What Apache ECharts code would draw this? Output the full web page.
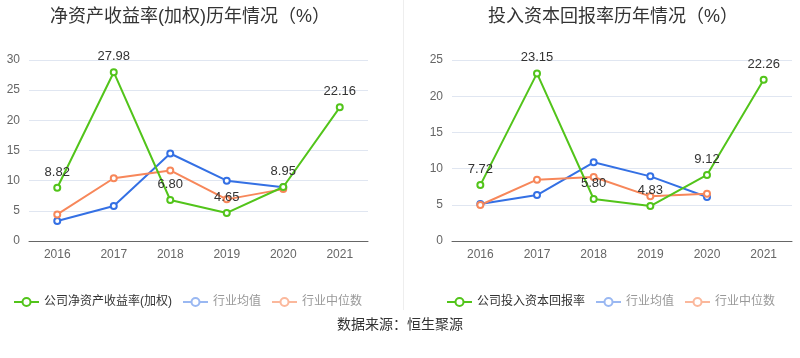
<!DOCTYPE html>
<html><head><meta charset="utf-8">
<script src="https://cdn.jsdelivr.net/npm/echarts@6/dist/echarts.min.js"></script>
<style>html,body{margin:0;padding:0;background:#fff}#c{width:800px;height:358px}</style>
</head><body><div id="c"></div>
<script>
var years = ['2016','2017','2018','2019','2020','2021'];
var roeCompany = [8.82, 27.98, 6.80, 4.65, 8.95, 22.16];
var roeAvg = [3.3, 5.8, 14.5, 10.0, 8.9, null];
var roeMedian = [4.4, 10.4, 11.7, 6.9, 8.6, null];
var roicCompany = [7.72, 23.15, 5.80, 4.83, 9.12, 22.26];
var roicAvg = [5.1, 6.35, 10.87, 8.93, 6.08, null];
var roicMedian = [4.97, 8.47, 8.84, 6.17, 6.53, null];
var titleLeft = '净资产收益率(加权)历年情况（%）';
var titleRight = '投入资本回报率历年情况（%）';
var nameRoe = '公司净资产收益率(加权)';
var nameRoic = '公司投入资本回报率';
var nameAvg = '行业均值';
var nameMedian = '行业中位数';
var source = '数据来源：恒生聚源';

var FONT = 'Liberation Sans, Noto Sans CJK SC, sans-serif';
var GREEN = '#52c41a', BLUE = '#3470e4', ORANGE = '#f7875a';

function lineSeries(name, data, color, xi, withLabel) {
  return {
    type: 'line', name: name, data: data, xAxisIndex: xi, yAxisIndex: xi,
    symbol: 'emptyCircle', symbolSize: 6, showAllSymbol: true,
    lineStyle: {width: 2, color: color},
    itemStyle: {color: color, borderWidth: 2},
    label: withLabel ? {show: true, position: 'top', color: '#333', fontSize: 13, fontFamily: FONT,
      formatter: function(p){ return p.value.toFixed(2); }} : {show: false},
    emphasis: {disabled: true},
    z: withLabel ? 3 : 2
  };
}
function legendData(main) {
  return [
    {name: main, textStyle: {color: '#333'}},
    {name: nameAvg, textStyle: {color: '#999'}, itemStyle: {color: '#9ab8f2', borderColor: '#9ab8f2'}, lineStyle: {color: '#9ab8f2'}},
    {name: nameMedian, textStyle: {color: '#999'}, itemStyle: {color: '#fbb89c', borderColor: '#fbb89c'}, lineStyle: {color: '#fbb89c'}}
  ];
}
function xAxis(gi) {
  return {type: 'category', gridIndex: gi, data: years, boundaryGap: true,
    axisLine: {lineStyle: {color: '#666'}}, axisTick: {lineStyle: {color: '#666'}},
    axisLabel: {color: '#666', fontSize: 12, fontFamily: FONT, margin: 8}};
}
function yAxis(gi, max) {
  return {type: 'value', gridIndex: gi, min: 0, max: max, interval: 5,
    axisLine: {show: false}, axisTick: {show: false},
    axisLabel: {color: '#666', fontSize: 12, fontFamily: FONT, margin: 9},
    splitLine: {lineStyle: {color: '#e0e6f1'}}};
}

var chart = echarts.init(document.getElementById('c'), null, {renderer: 'canvas'});
chart.setOption({
  animation: false,
  title: [
    {text: titleLeft, left: 185, top: 3, textAlign: 'center', textStyle: {color: '#333', fontSize: 18, fontWeight: 'normal', fontFamily: FONT}},
    {text: titleRight, left: 608, top: 3, textAlign: 'center', textStyle: {color: '#333', fontSize: 18, fontWeight: 'normal', fontFamily: FONT}}
  ],
  legend: [
    {left: 8, top: 291, width: 390, itemWidth: 25, itemHeight: 10, itemGap: 10, selectedMode: false,
      textStyle: {fontSize: 12, fontFamily: FONT}, data: legendData(nameRoe)},
    {left: 441, top: 291, width: 355, itemWidth: 25, itemHeight: 10, itemGap: 10, selectedMode: false,
      textStyle: {fontSize: 12, fontFamily: FONT}, data: legendData(nameRoic)}
  ],
  grid: [
    {left: 29, right: 432, top: 60, bottom: 117},
    {left: 452, right: 8, top: 60, bottom: 117}
  ],
  xAxis: [xAxis(0), xAxis(1)],
  yAxis: [yAxis(0, 30), yAxis(1, 25)],
  series: [
    lineSeries(nameAvg, roeAvg, BLUE, 0, false),
    lineSeries(nameMedian, roeMedian, ORANGE, 0, false),
    lineSeries(nameRoe, roeCompany, GREEN, 0, true),
    lineSeries(nameAvg, roicAvg, BLUE, 1, false),
    lineSeries(nameMedian, roicMedian, ORANGE, 1, false),
    lineSeries(nameRoic, roicCompany, GREEN, 1, true)
  ],
  graphic: [
    {type: 'line', shape: {x1: 403.5, y1: 0, x2: 403.5, y2: 310}, style: {stroke: '#eeeeee', lineWidth: 1}},
    {type: 'text', left: 'center', top: 318, style: {text: source, fill: '#333', fontSize: 14, fontFamily: FONT}}
  ]
});
</script></body></html>
